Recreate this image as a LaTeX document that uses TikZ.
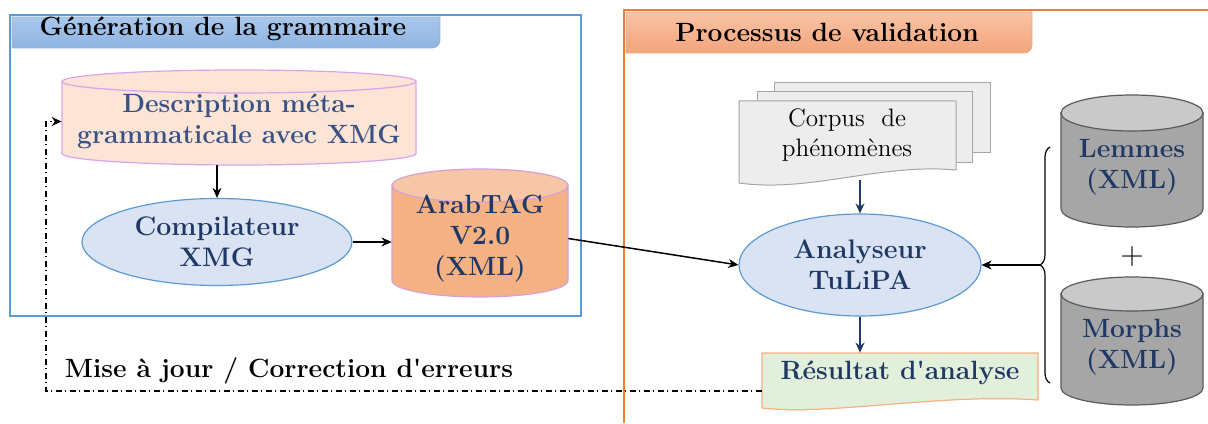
\documentclass[tikz,border=0pt]{standalone}
\usepackage{fontspec}
\usetikzlibrary{arrows.meta,decorations.pathreplacing,shapes.geometric}
\definecolor{blueframe}{HTML}{5B9BD5}
\definecolor{bluetabtop}{HTML}{AAC7EA}
\definecolor{bluetabbot}{HTML}{8EB4E3}
\definecolor{orangeframe}{HTML}{ED7D31}
\definecolor{orangetabtop}{HTML}{F8C4A5}
\definecolor{orangetabbot}{HTML}{F4A47C}
\definecolor{descfill}{HTML}{FCE4D6}
\definecolor{descdraw}{HTML}{D7A4EC}
\definecolor{compfill}{HTML}{DAE3F3}
\definecolor{arabfill}{HTML}{F4B183}
\definecolor{arabtop}{HTML}{F7C6A6}
\definecolor{arabdraw}{HTML}{D5A0D8}
\definecolor{graybody}{HTML}{A6A6A6}
\definecolor{graytop}{HTML}{C9C9C9}
\definecolor{graydraw}{HTML}{5A5A5A}
\definecolor{sheetfill}{HTML}{EDEDED}
\definecolor{sheetdraw}{HTML}{A5A5A5}
\definecolor{resfill}{HTML}{E2EFDA}
\definecolor{resdraw}{HTML}{F4B183}
\definecolor{navy}{HTML}{1F3864}
\definecolor{descblue}{HTML}{3A5283}
\newcommand\cylbody[8]{%
  \pgfmathsetmacro\cyA{423-#2-#4}%
  \pgfmathsetmacro\cyB{423-#5+#4}%
  \path[fill=#6,draw=#8,line width=0.6pt] ({#1-#3},\cyA) -- ({#1-#3},\cyB)
     arc[start angle=180,end angle=360,x radius=#3*0.5pt,y radius=#4*0.5pt]
     -- ({#1+#3},\cyA) -- cycle;
  \path[fill=#7,draw=#8,line width=0.6pt] (#1,\cyA) ellipse[x radius=#3*0.5pt,y radius=#4*0.5pt];
}
\tikzset{
  txt/.style={align=center,inner sep=0pt,font=\fontsize{13.2}{15.6}\selectfont\bfseries},
  rtxt/.style={align=center,inner sep=0pt,font=\fontsize{12.6}{15}\selectfont},
  ell/.style={ellipse,draw=blueframe,fill=compfill,line width=0.6pt,inner sep=0pt,
     align=center,text=navy,font=\fontsize{13.4}{15.6}\selectfont\bfseries},
  arr/.style={line width=0.75pt,-{Stealth[length=5pt,width=4.5pt]}},
  navyarr/.style={arr,draw=navy},
  loopline/.style={line width=0.75pt,dash pattern=on 3pt off 1.6pt on 0.8pt off 1.6pt,-{Stealth[length=5pt,width=4.5pt]}},
}
\begin{document}
\begin{tikzpicture}[x=0.5pt,y=0.5pt]
\useasboundingbox (0,0) rectangle (1208,423);
% left frame
\draw[blueframe,line width=1.25pt] (10,408) rectangle (581,107);
\path[top color=bluetabtop,bottom color=bluetabbot,draw=bluetabbot,line width=0.4pt]
  (12,406) -- (440,406) -- (440,383) arc[start angle=0,end angle=-90,radius=4pt] -- (12,375) -- cycle;
\node[txt] (title1) at (223,394) {Génération de la grammaire};
% right frame
\path[top color=orangetabtop,bottom color=orangetabbot,draw=orangetabbot,line width=0.4pt]
  (626,411) -- (1032,411) -- (1032,378) arc[start angle=0,end angle=-90,radius=4pt] -- (626,370) -- cycle;
\draw[orangeframe,line width=1.25pt] (624,0) -- (624,413) -- (1208,413);
\node[txt] (title2) at (827,391) {Processus de validation};
% description cylinder
\cylbody{239}{70}{177}{11.5}{165}{descfill}{descfill}{descdraw}
\node[txt,text=descblue,minimum width=177pt,minimum height=43.5pt] (desc) at (239,301.5)
  {Description méta-\\grammaticale avec XMG};
% compilateur
\node[ell,minimum width=135pt,minimum height=43.5pt] (comp) at (217,181) {Compilateur\\XMG};
% ArabTAG
\cylbody{480}{169}{88}{16.5}{297}{arabfill}{arabtop}{arabdraw}
\node[txt,text=navy,minimum width=88pt] (arab) at (480,184.5) {ArabTAG\\V2.0\\(XML)};
% corpus sheets
\path[fill=sheetfill,draw=sheetdraw,line width=0.5pt] (774,340) rectangle (990,270);
\path[fill=sheetfill,draw=sheetdraw,line width=0.5pt] (757,331) rectangle (972,260);
\path[fill=sheetfill,draw=sheetdraw,line width=0.5pt] (739,322) -- (956,322) -- (956,253)
  .. controls (880,260) and (810,230) .. (739,240) -- cycle;
\node[rtxt,minimum width=108pt,minimum height=45pt] (corpus) at (847,288) {Corpus\ \ de\\phénomènes};
% analyseur
\node[ell,minimum width=121pt,minimum height=51pt] (ana) at (860,158) {Analyseur\\TuLiPA};
% resultat
\path[fill=resfill,draw=resdraw,line width=0.6pt] (762,70) -- (1038,70) -- (1038,23)
  .. controls (940,30) and (830,7) .. (762,15) -- cycle;
\node[txt,text=navy,minimum width=138pt,minimum height=20pt] (res) at (900,50) {Résultat d\textquotesingle analyse};
% lemmes & morphs
\cylbody{1132}{95}{71}{18}{227}{graybody}{graytop}{graydraw}
\node[txt,text=navy] (lem) at (1132,255.5) {Lemmes\\(XML)};
\cylbody{1132}{277}{71}{17}{405}{graybody}{graytop}{graydraw}
\node[txt,text=navy] (mor) at (1132,75.5) {Morphs\\(XML)};
\node[inner sep=0pt,font=\fontsize{16}{16}\selectfont] (plus) at (1132,166) {+};
% brace
\draw[line width=0.6pt,decorate,decoration={brace,amplitude=5pt}] (1050,40) -- (1050,276);
\coordinate (bt) at (1040,158);
% arrows
\draw[arr] (comp.north |- desc.south) -- (comp.north);
\draw[arr] (comp.east) -- (comp.east -| arab.west);
\draw[arr] (arab.east) -- (ana.west);
\draw[navyarr] (ana.north |- corpus.south) -- (ana.north);
\draw[navyarr] (ana.south) -- (ana.south |- res.north);
\draw[arr] (bt) -- (ana.east);
% loop
\coordinate (lp) at (46,32);
\draw[loopline] (res.west |- lp) -- (lp) |- (desc.west);
\node[txt] (mise) at (289,52) {Mise à jour / Correction d\textquotesingle erreurs};
\end{tikzpicture}
\end{document}
